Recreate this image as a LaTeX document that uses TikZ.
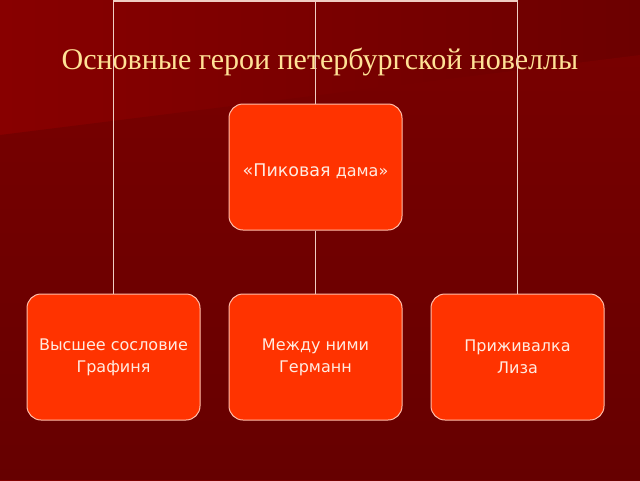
\documentclass[tikz,border=0pt]{standalone}
\usepackage{fontspec}
\setmainfont{Liberation Serif}
\newfontfamily\boxfont{DejaVu Sans}
\definecolor{bgA}{RGB}{136,0,0}
\definecolor{bgB}{RGB}{108,0,0}
\definecolor{bgC}{RGB}{120,0,0}
\definecolor{bgD}{RGB}{102,0,0}
\definecolor{cardfill}{RGB}{255,51,0}
\definecolor{cardline}{RGB}{255,190,170}
\definecolor{cardtext}{RGB}{255,235,225}
\definecolor{linkcol}{RGB}{240,205,195}
\definecolor{titlecol}{RGB}{255,226,150}
\begin{document}
\begin{tikzpicture}[x=1pt,y=-1pt,
  card/.style={draw=cardline,line width=1pt,
    fill=cardfill,rounded corners=14pt,
    minimum width=173pt,minimum height=126pt,inner sep=0pt,
    text=cardtext,font=\boxfont\fontsize{16}{22}\selectfont,
    align=center},
  link/.style={draw=linkcol,line width=1.4pt}]
\useasboundingbox (0,0) rectangle (640,480);
\shade[left color=bgA,right color=bgB] (0,0) rectangle (640,480);
\shade[top color=bgC,bottom color=bgD] (0,135) -- (640,55) -- (640,480) -- (0,480) -- cycle;
\node[text=titlecol,font=\fontsize{30}{34}\selectfont] (title) at (320,62) {Основные герои петербургской новеллы};
\node[card] (pd) at (315.5,167) {\raisebox{-5pt}[12pt][4pt]{{\fontsize{17.5}{22}\selectfont«Пиковая} {\fontsize{16}{22}\selectfont дама»}}};
\node[card] (g) at (113.5,357) {Высшее сословие\\Графиня};
\node[card] (m) at (315.5,357) {Между ними\\Германн};
\node[card] (l) at (517.5,357) {Приживалка\\Лиза};
\coordinate (top) at (315.5,1);
\draw[link] (g.north) |- (top) -| (l.north);
\draw[link] (top) -- (pd.north);
\draw[link] (pd.south) -- (m.north);
\end{tikzpicture}
\end{document}
